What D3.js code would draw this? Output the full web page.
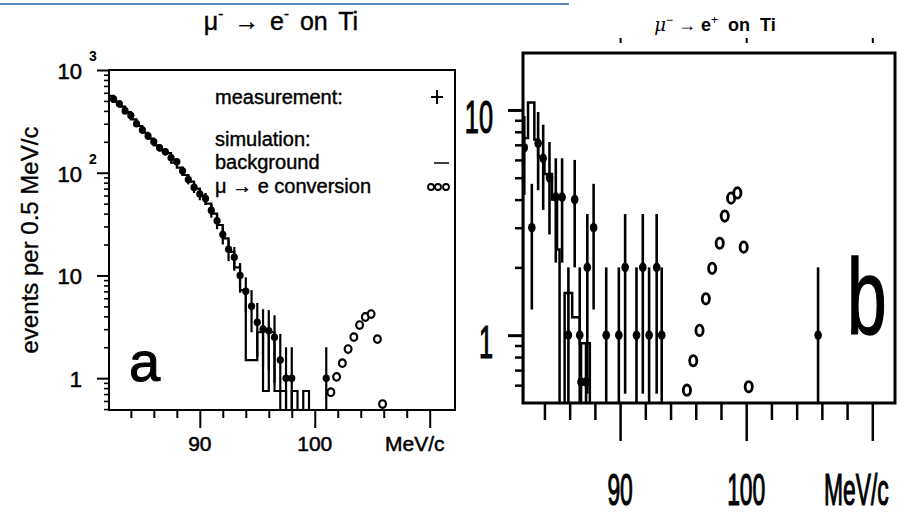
<!DOCTYPE html>
<html>
<head>
<meta charset="utf-8">
<script src="https://cdn.jsdelivr.net/npm/d3@7"></script>
<style>
  body { margin: 0; background: #fff; }
  svg { display: block; font-family: "Liberation Sans", Arial, Helvetica, sans-serif; }
</style>
</head>
<body>
<svg id="chart" width="897" height="515"></svg>
<script>
// ---- panel a: mu- -> e- on Ti ----
const aMeasMom = [82.5, 83.0, 83.5, 84.0, 84.5, 85.0, 85.5, 86.0, 86.5, 87.0, 87.5, 88.0, 88.5, 89.0, 89.5, 90.0, 90.5, 91.0, 91.5, 92.0, 92.5, 93.0, 93.5, 94.0, 94.5, 95.0, 95.5, 96.0, 96.5, 97.0, 97.5, 98.0, 101.0];
const aMeasCounts = [520, 470, 400, 360, 300, 260, 228, 200, 175, 160, 140, 128, 104, 86, 72, 62, 56, 43, 34, 25, 18, 15, 10, 7, 5, 3.5, 3, 2.9, 2.5, 1.5, 1, 1, 1];
const aMeasErr = [23, 22, 20, 19, 17, 16, 15, 14, 13, 13, 12, 11, 10, 9, 8.5, 8, 7.5, 6.5, 5.8, 5, 4.2, 3.9, 3.2, 2.6, 2.2, 1.9, 1.7, 1.7, 1.6, 1.2, 1, 1, 1];

// simulated background, 0.5 MeV/c bins starting at 82 MeV/c
const aBgStart = 82.0;
const aBgWidth = 0.5;
const aBgCounts = [560, 490, 440, 390, 330, 285, 245, 215, 185, 165, 155, 125, 112, 95, 82, 70, 60, 50, 40, 31, 23, 17, 12, 7.2, 1.5, 1.5, 2.8, 0.75, 2.8, 0.75, 0.75, 0.3, 0.75, 0.3, 0.75, 0.3];

// simulated mu -> e conversion signal
const aConvMom = [101.4, 101.9, 102.4, 102.9, 103.4, 103.9, 104.4, 104.9, 105.45, 105.9];
const aConvCounts = [0.73, 1.03, 1.40, 1.92, 2.51, 3.29, 3.94, 4.21, 2.40, 0.56];

const aMajorTicks = [90, 100, 110];
const aMinorTicks = [84, 86, 88, 92, 94, 96, 98, 102, 104, 106, 108];
const aYDecades = [1, 10, 100, 1000];
const aYLabels = ["1", "10", "10", "10"];
const aYSups = ["", "", "2", "3"];

// ---- panel b: mu- -> e+ on Ti ----
const bMeasMom = [82.4, 83.0, 83.5, 83.9, 84.4, 84.9, 85.4, 85.9, 86.4, 86.8, 86.9, 87.3, 87.4, 87.9, 88.9, 89.9, 90.4, 91.3, 91.8, 92.3, 92.9, 93.3, 105.7];
const bMeasCounts = [6.8, 3.0, 7.1, 6.1, 5.0, 4.1, 4.1, 1.0, 4.0, 1.0, 0.62, 0.62, 2.0, 3.0, 1.0, 1.0, 2.0, 1.0, 2.0, 1.0, 2.0, 1.0, 1.0];
const bMeasErr = [2.6, 1.7, 2.7, 2.5, 2.2, 2.0, 2.0, 1.0, 2.0, 1.0, 0.3, 0.3, 1.45, 1.7, 1.0, 1.0, 1.45, 1.0, 1.45, 1.0, 1.45, 1.0, 1.0];

const bBgEdges = [82.3, 82.7, 83.2, 83.5, 84.0, 84.6, 85.0, 85.2, 85.6, 86.2, 86.8, 87.6];
const bBgCounts = [7.5, 10.8, 7.4, 6.2, 5.2, 4.0, 2.4, 0.3, 1.54, 1.2, 0.92];

const bConvMom = [95.3, 95.8, 96.3, 96.8, 97.3, 97.9, 98.3, 98.8, 99.3, 99.8, 100.2];
const bConvCounts = [0.57, 0.77, 1.05, 1.45, 1.98, 2.56, 3.38, 4.06, 4.28, 2.46, 0.59];

const bMajorTicks = [90, 100, 110];
const bMinorTicks = [84, 86, 88, 92, 94, 96, 98, 102, 104, 106, 108];
const bYMajor = [1, 10];
const bYMinor = [0.6, 0.7, 0.8, 0.9, 2, 3, 4, 5, 6, 7, 8, 9];

const svg = d3.select("#chart");
svg.append("rect").attr("width", 897).attr("height", 515).attr("fill", "#fff");

// thin blue rule along the top edge
svg.append("line")
    .attr("x1", 0).attr("x2", 569).attr("y1", 4).attr("y2", 4)
    .attr("stroke", "#5b86c6").attr("stroke-width", 2);

// step histogram outline
function drawHist(g, x, y, edges, counts, floor, width) {
    const pts = [[edges[0], floor]];
    counts.forEach((c, i) => {
        pts.push([edges[i], c]);
        pts.push([edges[i + 1], c]);
    });
    pts.push([edges[edges.length - 1], floor]);
    g.append("path")
        .datum(pts)
        .attr("d", d3.line().x(d => x(d[0])).y(d => y(Math.max(d[1], floor))))
        .attr("fill", "none")
        .attr("stroke", "#000")
        .attr("stroke-width", width);
}

// measured points with error bars
function drawMeas(g, x, y, mom, counts, err, opt) {
    const floor = y.domain()[0] * 0.7;
    g.selectAll(null).data(mom).join("line")
        .attr("x1", d => x(d)).attr("x2", d => x(d))
        .attr("y1", (d, i) => y(Math.max(counts[i] - err[i], floor)))
        .attr("y2", (d, i) => y(counts[i] + err[i]))
        .attr("stroke", "#000").attr("stroke-width", opt.bar);
    g.selectAll(null).data(mom).join("line")
        .attr("x1", d => x(d - opt.half)).attr("x2", d => x(d + opt.half))
        .attr("y1", (d, i) => y(counts[i])).attr("y2", (d, i) => y(counts[i]))
        .attr("stroke", "#000").attr("stroke-width", opt.bar);
    g.selectAll(null).data(mom).join("ellipse")
        .attr("cx", d => x(d)).attr("cy", (d, i) => y(counts[i]))
        .attr("rx", opt.rx).attr("ry", opt.ry)
        .attr("fill", "#000");
}

function drawConv(g, x, y, mom, counts, opt) {
    g.selectAll(null).data(mom).join("ellipse")
        .attr("cx", d => x(d)).attr("cy", (d, i) => y(counts[i]))
        .attr("rx", opt.rx).attr("ry", opt.ry)
        .attr("fill", "#fff").attr("stroke", "#000").attr("stroke-width", opt.sw);
}

function styleAxis(sel, width) {
    sel.select(".domain").remove();
    sel.selectAll("line").attr("stroke", "#000").attr("stroke-width", width);
}

// scanned look: a thin outline thickens the glyphs a little
function heavy(sel, w) {
    sel.attr("stroke", "#000").attr("stroke-width", w);
}

// ================= panel a =================
const ax = d3.scaleLinear().domain([82.1, 112.2]).range([109, 455]);
const ay = d3.scaleLog().domain([0.49, 1000]).range([410, 70]);
const ga = svg.append("g");

ga.append("clipPath").attr("id", "clipA")
    .append("rect").attr("x", 109).attr("y", 70).attr("width", 346).attr("height", 340);

const aPlot = ga.append("g").attr("clip-path", "url(#clipA)");
const aEdges = aBgCounts.map((c, i) => aBgStart + i * aBgWidth).concat(aBgStart + aBgCounts.length * aBgWidth);
drawHist(aPlot, ax, ay, aEdges, aBgCounts, 0.3, 2.2);
drawMeas(aPlot, ax, ay, aMeasMom, aMeasCounts, aMeasErr, { bar: 2.2, half: 0.25, rx: 3.6, ry: 3.8 });
drawConv(aPlot, ax, ay, aConvMom, aConvCounts, { rx: 3.4, ry: 3.8, sw: 2.2 });

// frame
ga.append("rect").attr("x", 109).attr("y", 70).attr("width", 346).attr("height", 340)
    .attr("fill", "none").attr("stroke", "#000").attr("stroke-width", 2);

// x ticks
ga.append("g").attr("transform", "translate(0,410)")
    .call(d3.axisBottom(ax).tickValues(aMajorTicks).tickSize(18).tickFormat(""))
    .call(s => styleAxis(s, 2));
ga.append("g").attr("transform", "translate(0,410)")
    .call(d3.axisBottom(ax).tickValues(aMinorTicks).tickSize(8).tickFormat(""))
    .call(s => styleAxis(s, 2));

// y ticks
const aYMinor = [];
[0.1, 1, 10, 100].forEach(dec => d3.range(2, 10).forEach(k => {
    const v = dec * k;
    if (v >= 0.49 && v <= 1000) aYMinor.push(v);
}));
ga.append("g").attr("transform", "translate(109,0)")
    .call(d3.axisLeft(ay).tickValues(aYDecades).tickSize(12).tickFormat(""))
    .call(s => styleAxis(s, 2));
ga.append("g").attr("transform", "translate(109,0)")
    .call(d3.axisLeft(ay).tickValues(aYMinor).tickSize(5).tickFormat(""))
    .call(s => styleAxis(s, 1.6));

// tick labels
aYDecades.forEach((v, i) => {
    ga.append("text").attr("x", 82).attr("y", ay(v) + 9)
        .attr("text-anchor", "end").attr("font-size", 22).text(aYLabels[i])
        .call(heavy, 0.5);
    if (aYSups[i]) {
        ga.append("text").attr("x", 89).attr("y", ay(v) - 9)
            .attr("font-size", 14).attr("font-weight", "bold").text(aYSups[i]);
    }
});
ga.selectAll(null).data(aMajorTicks).join("text")
    .attr("x", d => d === 110 ? ax(d) - 15 : ax(d))
    .attr("y", 451)
    .attr("text-anchor", "middle").attr("font-size", 21)
    .text(d => d === 110 ? "MeV/c" : d)
    .call(heavy, 0.5);

// axis title
ga.append("text")
    .attr("transform", "translate(38,240) rotate(-90)")
    .attr("text-anchor", "middle").attr("font-size", 24)
    .text("events per 0.5 MeV/c")
    .call(heavy, 0.3);

// title
const ta = ga.append("text").attr("x", 281).attr("y", 30).attr("text-anchor", "middle")
    .attr("font-size", 25).attr("word-spacing", 4).call(heavy, 0.4);
ta.append("tspan").text("\u03bc");
ta.append("tspan").attr("font-size", 15).attr("dy", -11).text("-");
ta.append("tspan").attr("dy", 11).text(" \u2192 e");
ta.append("tspan").attr("font-size", 15).attr("dy", -11).text("-");
ta.append("tspan").attr("dy", 11).text(" on Ti");

// legend
const legA = [
    { t: "measurement:", y: 104 },
    { t: "simulation:", y: 146 },
    { t: "background", y: 169 },
    { t: "\u03bc \u2192 e conversion", y: 193 }
];
ga.selectAll(null).data(legA).join("text")
    .attr("x", 215).attr("y", d => d.y).attr("font-size", 20).text(d => d.t)
    .call(heavy, 0.4);
ga.append("line").attr("x1", 437).attr("x2", 437).attr("y1", 90).attr("y2", 104).attr("stroke", "#000").attr("stroke-width", 2);
ga.append("line").attr("x1", 431).attr("x2", 443).attr("y1", 97).attr("y2", 97).attr("stroke", "#000").attr("stroke-width", 2);
ga.append("line").attr("x1", 434).attr("x2", 449).attr("y1", 163).attr("y2", 163).attr("stroke", "#000").attr("stroke-width", 1.5);
[431, 438, 446].forEach(cx => ga.append("circle").attr("cx", cx).attr("cy", 187).attr("r", 3)
    .attr("fill", "none").attr("stroke", "#000").attr("stroke-width", 1.8));

// panel letter
ga.append("text").attr("x", 129).attr("y", 381).attr("font-size", 56).text("a").call(heavy, 1);

// ================= panel b =================
const bx = d3.scaleLinear().domain([82.3, 111.8]).range([523, 895]);
const by = d3.scaleLog().domain([0.5, 17.9]).range([403, 53]);
const gb = svg.append("g");

gb.append("clipPath").attr("id", "clipB")
    .append("rect").attr("x", 523).attr("y", 53).attr("width", 372).attr("height", 350);

const bPlot = gb.append("g").attr("clip-path", "url(#clipB)");
drawHist(bPlot, bx, by, bBgEdges, bBgCounts, 0.3, 2.5);
drawMeas(bPlot, bx, by, bMeasMom, bMeasCounts, bMeasErr, { bar: 2.6, half: 0, rx: 3.8, ry: 4.8 });
drawConv(bPlot, bx, by, bConvMom, bConvCounts, { rx: 3.6, ry: 5.2, sw: 2.8 });

gb.append("rect").attr("x", 523).attr("y", 53).attr("width", 372).attr("height", 350)
    .attr("fill", "none").attr("stroke", "#000").attr("stroke-width", 3);

gb.append("g").attr("transform", "translate(0,403)")
    .call(d3.axisBottom(bx).tickValues(bMajorTicks).tickSize(38).tickFormat(""))
    .call(s => styleAxis(s, 2.5));
gb.append("g").attr("transform", "translate(0,403)")
    .call(d3.axisBottom(bx).tickValues(bMinorTicks).tickSize(17).tickFormat(""))
    .call(s => styleAxis(s, 2.5));
gb.append("g").attr("transform", "translate(523,0)")
    .call(d3.axisLeft(by).tickValues(bYMajor).tickSize(15).tickFormat(""))
    .call(s => styleAxis(s, 3));
gb.append("g").attr("transform", "translate(523,0)")
    .call(d3.axisLeft(by).tickValues(bYMinor).tickSize(8).tickFormat(""))
    .call(s => styleAxis(s, 2.5));

// small marks above the top edge
gb.append("g").attr("transform", "translate(0,38)")
    .call(d3.axisBottom(bx).tickValues(bMajorTicks).tickSize(5).tickFormat(""))
    .call(s => styleAxis(s, 2));

// condensed tick labels
bYMajor.forEach(v => {
    gb.append("text")
        .attr("transform", `translate(493,${by(v) + 23}) scale(0.55,1)`)
        .attr("text-anchor", "end").attr("font-size", 46)
        .text(v)
        .call(heavy, 1.2);
});
gb.selectAll(null).data(bMajorTicks).join("text")
    .attr("transform", d => `translate(${d === 110 ? bx(d) - 16 : bx(d)},505) scale(0.52,1)`)
    .attr("text-anchor", "middle").attr("font-size", 44)
    .text(d => d === 110 ? "MeV/c" : d)
    .call(heavy, 1.2);

// title
const tb = gb.append("text").attr("x", 715).attr("y", 31).attr("text-anchor", "middle").attr("font-size", 18);
tb.append("tspan").attr("font-family", "'DejaVu Serif', serif").attr("font-style", "italic").text("\u03bc");
tb.append("tspan").attr("font-size", 12).attr("dy", -7).text("\u2212");
tb.append("tspan").attr("dy", 7).text(" \u2192 ");
tb.append("tspan").attr("font-weight", "bold").text("e");
tb.append("tspan").attr("font-size", 12).attr("dy", -7).text("+");
tb.append("tspan").attr("dy", 7).attr("font-weight", "bold").text("\u00a0 on \u00a0Ti");

// panel letter
gb.append("text")
    .attr("transform", "translate(847,334) scale(0.66,1)")
    .attr("font-size", 108).text("b")
    .call(heavy, 1.5);
</script>
</body>
</html>
